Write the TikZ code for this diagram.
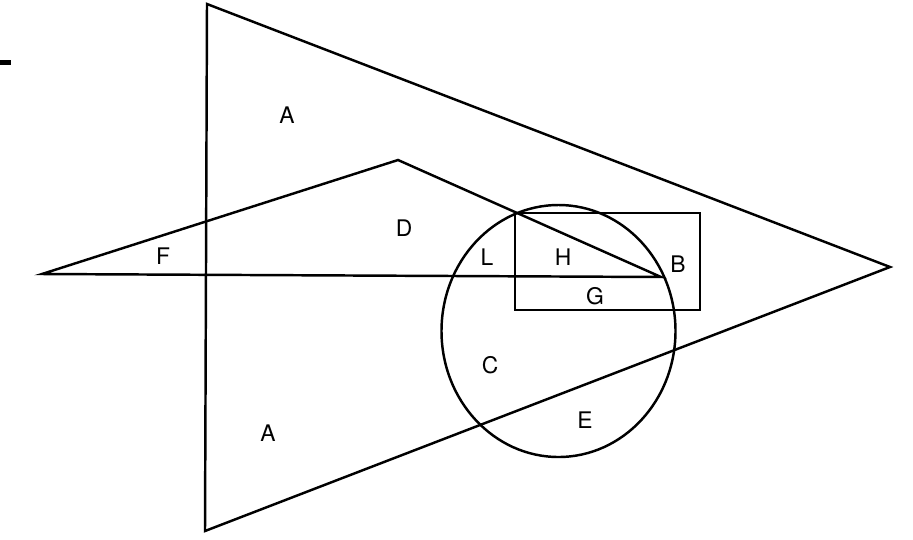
\documentclass[tikz,border=0pt]{standalone}
\usepackage{fontspec}
\setmainfont{TeX Gyre Heros}
\usepackage{tikz}

\begin{document}
\begin{tikzpicture}[
    x=0.02cm,
    y=-0.02cm,
    edge/.style={line width=1.4pt, line join=miter},
    region/.style={font=\fontsize{13}{15}\selectfont, inner sep=0pt}
]
\useasboundingbox (0, 0) rectangle (913, 539);

\coordinate (bigtop) at (207, 4);
\coordinate (bigbot) at (205, 531);
\coordinate (bigtip) at (890, 267);
\coordinate (smleft) at (42, 274);
\coordinate (smtop) at (398, 160);
\coordinate (B) at (661, 277);
\coordinate (rectnw) at (515, 213);
\coordinate (rectse) at (700, 310);
\coordinate (centre) at (558.5, 331);

\draw[edge] (bigtop) -- (bigtip) -- (bigbot) -- cycle;
\draw[edge] (smleft) -- (smtop) -- (B) -- cycle;
\draw[edge] (rectnw) rectangle (rectse);
\draw[edge] (centre) ellipse [x radius=117, y radius=126];
\draw[line width=2.3pt] (0, 62.5) -- (11, 62.5);

\node[region] (A1) at (287, 115) {A};
\node[region] (D) at (404, 228) {D};
\node[region] (F) at (163, 256) {F};
\node[region] (L) at (487, 257) {L};
\node[region] (H) at (563, 257) {H};
\node[region] (Blab) at (678, 264) {B};
\node[region] (G) at (595, 296) {G};
\node[region] (C) at (490, 365) {C};
\node[region] (E) at (585, 420) {E};
\node[region] (A2) at (268, 433) {A};
\end{tikzpicture}
\end{document}
